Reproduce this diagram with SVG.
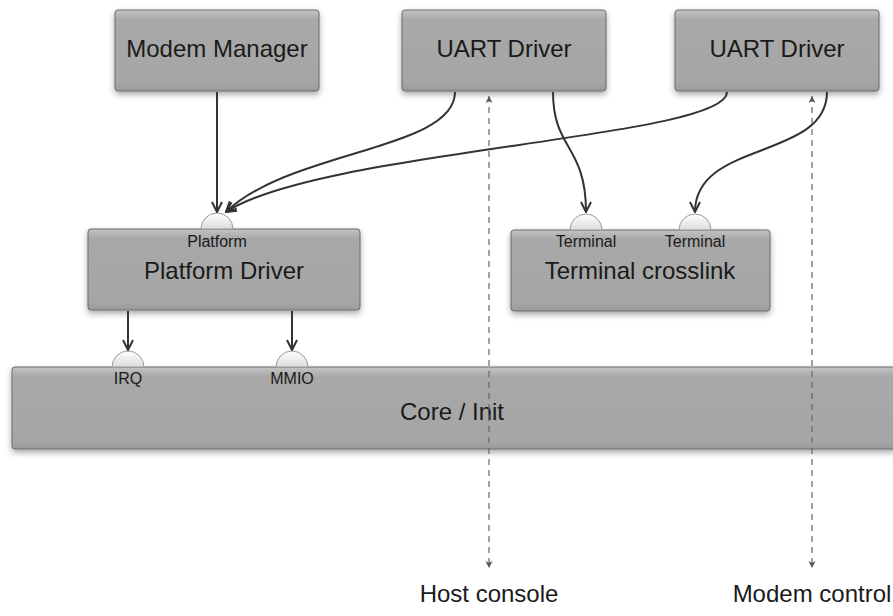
<svg xmlns="http://www.w3.org/2000/svg" width="893" height="616" viewBox="0 0 893 616">
<defs>
<linearGradient id="boxg" x1="0" y1="0" x2="0" y2="1">
<stop offset="0" stop-color="#c4c4c4"/>
<stop offset="0.12" stop-color="#a8a8a8"/>
<stop offset="0.9" stop-color="#a6a6a6"/>
<stop offset="1" stop-color="#9a9a9a"/>
</linearGradient>
<linearGradient id="portg" x1="0" y1="0" x2="0" y2="1">
<stop offset="0" stop-color="#ffffff"/>
<stop offset="1" stop-color="#dcdcdc"/>
</linearGradient>
<filter id="shadow" x="-10%" y="-20%" width="120%" height="150%">
<feDropShadow dx="0" dy="3" stdDeviation="3" flood-color="#000" flood-opacity="0.35"/>
</filter>
<marker id="arr" viewBox="0 0 12 12" refX="11" refY="6" markerWidth="12" markerHeight="12" markerUnits="userSpaceOnUse" orient="auto">
<path d="M1,1 L11,6 L1,11" fill="none" stroke="#333" stroke-width="2"/>
</marker>
<marker id="darr" viewBox="0 0 8 8" refX="7" refY="4" markerWidth="8" markerHeight="8" markerUnits="userSpaceOnUse" orient="auto">
<path d="M0,0.5 L7,4 L0,7.5 L2,4 Z" fill="#555"/>
</marker>
<marker id="darrs" viewBox="0 0 8 8" refX="1" refY="4" markerWidth="8" markerHeight="8" markerUnits="userSpaceOnUse" orient="auto">
<path d="M8,0.5 L1,4 L8,7.5 L6,4 Z" fill="#555"/>
</marker>
</defs>
<style>
.box{fill:url(#boxg);stroke:#6b6b6b;stroke-width:1;filter:url(#shadow);}
.port{fill:url(#portg);stroke:#9a9a9a;stroke-width:1;}
.big{font-family:"Liberation Sans",Arial,sans-serif;font-size:24px;fill:#1a1a1a;text-anchor:middle;}
.small{font-family:"Liberation Sans",Arial,sans-serif;font-size:16px;fill:#1a1a1a;text-anchor:middle;}
.conn{fill:none;stroke:#333;stroke-width:2;marker-end:url(#arr);}
.dash{fill:none;stroke:#666;stroke-width:1.2;stroke-dasharray:6,5;marker-end:url(#darr);marker-start:url(#darrs);}
</style>

<g id="modem-manager">
<rect class="box" x="115" y="10" width="204" height="81" rx="3"/>
<text class="big" x="217" y="57">Modem Manager</text>
</g>
<g id="uart-driver-1">
<rect class="box" x="402" y="10" width="204" height="81" rx="3"/>
<text class="big" x="504" y="57">UART Driver</text>
</g>
<g id="uart-driver-2">
<rect class="box" x="675" y="10" width="204" height="81" rx="3"/>
<text class="big" x="777" y="57">UART Driver</text>
</g>
<g id="platform-driver">
<rect class="box" x="88" y="229" width="272" height="81" rx="3"/>
<path class="port" d="M201,229 A16,16 0 0 1 233,229 Z"/>
<text class="small" x="217" y="247">Platform</text>
<text class="big" x="224" y="279">Platform Driver</text>
</g>
<g id="terminal-crosslink">
<rect class="box" x="511" y="230" width="259" height="81" rx="3"/>
<path class="port" d="M570,230 A16,16 0 0 1 602,230 Z"/>
<path class="port" d="M679,230 A16,16 0 0 1 711,230 Z"/>
<text class="small" x="586" y="247">Terminal</text>
<text class="small" x="695" y="247">Terminal</text>
<text class="big" x="640" y="279">Terminal crosslink</text>
</g>
<g id="core-init">
<rect class="box" x="12" y="367" width="886" height="82" rx="3"/>
<path class="port" d="M112,367 A16,16 0 0 1 144,367 Z"/>
<path class="port" d="M276,367 A16,16 0 0 1 308,367 Z"/>
<text class="small" x="128" y="384">IRQ</text>
<text class="small" x="292" y="384">MMIO</text>
<text class="big" x="452" y="420">Core / Init</text>
</g>
<g id="host-console">
<text class="big" x="489" y="602">Host console</text>
</g>
<g id="modem-control">
<text class="big" x="812" y="602">Modem control</text>
</g>

<g id="connectors">
<path class="conn" d="M217,92 L217,212"/>
<path class="conn" d="M455,92 C455,150 290,150 226,212"/>
<path class="conn" d="M727,92 C727,138 320,150 226,212"/>
<path class="conn" d="M553,92 C553,150 586,145 586,212"/>
<path class="conn" d="M827,92 C827,160 695,140 695,212"/>
<path class="conn" d="M128,311 L128,350"/>
<path class="conn" d="M292,311 L292,350"/>
<path class="dash" d="M489,96 L489,568"/>
<path class="dash" d="M812,96 L812,568"/>
</g>
</svg>
